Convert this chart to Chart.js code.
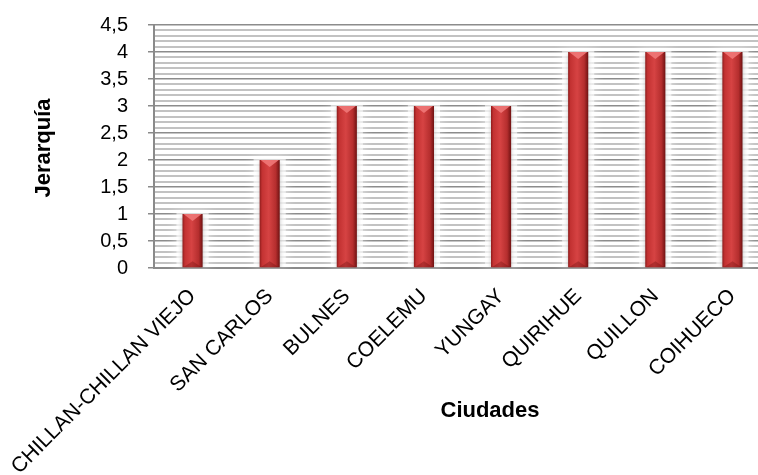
<!DOCTYPE html>
<html>
<head>
<meta charset="utf-8">
<script src="https://cdn.jsdelivr.net/npm/chart.js@4/dist/chart.umd.min.js"></script>
<style>
  html, body { margin: 0; padding: 0; background: #fff; overflow: hidden; }
  #wrap { width: 775px; height: 475px; }
</style>
</head>
<body>
<div id="wrap"><canvas id="grafico" width="775" height="475"></canvas></div>
<script>
// Datos del gráfico
const ciudades = ['CHILLAN-CHILLAN VIEJO', 'SAN CARLOS', 'BULNES', 'COELEMU', 'YUNGAY', 'QUIRIHUE', 'QUILLON', 'COIHUECO'];
const jerarquia = [1, 2, 3, 3, 3, 4, 4, 4];
const ejeYMin = 0;
const ejeYMax = 4.5;
const pasoMayor = 0.5;
const pasoMenor = 0.1;

const fuente = '"Liberation Sans", Arial, sans-serif';

function esMayor(v) {
    const k = v / pasoMayor;
    return Math.abs(k - Math.round(k)) < 1e-6;
}

// Degradado horizontal tipo cilindro para cada barra
function colorBarra(ctx) {
    const chart = ctx.chart;
    const escala = chart.scales.x;
    if (!escala || ctx.dataIndex === undefined) return '#c83434';
    const cx = escala.getPixelForValue(ctx.dataIndex);
    const ancho = escala.width / ciudades.length * 0.9 * 0.29;
    if (!Number.isFinite(cx) || !Number.isFinite(ancho) || ancho <= 0) return '#c83434';
    const g = chart.ctx.createLinearGradient(cx - ancho / 2, 0, cx + ancho / 2, 0);
    g.addColorStop(0, '#8e1c1c');
    g.addColorStop(0.12, '#c33232');
    g.addColorStop(0.45, '#d64343');
    g.addColorStop(0.8, '#b52e2e');
    g.addColorStop(1, '#6f1212');
    return g;
}

// Halo blanco y bisel superior de las barras
const efectosBarras = {
    id: 'efectosBarras',
    beforeDatasetsDraw(chart) {
        const c = chart.ctx;
        const meta = chart.getDatasetMeta(0);
        // halo claro alrededor de cada barra
        c.save();
        c.fillStyle = 'rgba(255,255,255,0.55)';
        c.shadowColor = 'rgba(255,255,255,1)';
        c.shadowBlur = 10;
        meta.data.forEach(bar => {
            c.fillRect(bar.x - bar.width / 2 - 6, bar.y - 3, bar.width + 12, bar.base - bar.y + 2);
        });
        c.restore();
        c.save();
        c.shadowColor = 'rgba(80,80,80,0.35)';
        c.shadowBlur = 4;
        c.shadowOffsetY = 2;
    },
    afterDatasetsDraw(chart) {
        const c = chart.ctx;
        c.restore();
        const meta = chart.getDatasetMeta(0);
        c.save();
        meta.data.forEach(bar => {
            const w = bar.width;
            const x0 = bar.x - w / 2;
            const x1 = bar.x + w / 2;
            const y = bar.y;
            c.fillStyle = 'rgba(240,120,120,0.9)';
            c.beginPath();
            c.moveTo(x0 + 1, y);
            c.lineTo(x1 - 1, y);
            c.lineTo(bar.x, y + 7);
            c.closePath();
            c.fill();
            c.fillStyle = 'rgba(110,15,15,0.35)';
            c.beginPath();
            c.moveTo(x0 + 1, bar.base);
            c.lineTo(x1 - 1, bar.base);
            c.lineTo(bar.x, bar.base - 6);
            c.closePath();
            c.fill();
        });
        c.restore();
    }
};

// Títulos de ejes
const titulosEjes = {
    id: 'titulosEjes',
    afterDraw(chart) {
        const c = chart.ctx;
        c.save();
        c.fillStyle = '#000';
        c.font = 'bold 22px ' + fuente;
        c.textAlign = 'center';
        c.textBaseline = 'middle';
        c.fillText('Ciudades', 490, 411);
        c.translate(44, 148);
        c.rotate(-Math.PI / 2);
        c.fillText('Jerarquía', 0, 0);
        c.restore();
    }
};

new Chart(document.getElementById('grafico'), {
    type: 'bar',
    data: {
        labels: ciudades,
        datasets: [{
            label: 'Jerarquía',
            data: jerarquia,
            backgroundColor: colorBarra,
            borderWidth: 0,
            barPercentage: 0.9,
            categoryPercentage: 0.29
        }]
    },
    options: {
        responsive: false,
        animation: false,
        layout: { padding: { top: 25, right: 4, left: 0, bottom: 0 } },
        plugins: {
            legend: { display: false },
            tooltip: { enabled: false }
        },
        scales: {
            x: {
                grid: { display: false },
                border: { display: true, color: '#8a8a8a', width: 2 },
                ticks: {
                    color: '#000',
                    font: { family: fuente, size: 21 },
                    minRotation: 45,
                    maxRotation: 45,
                    autoSkip: false,
                    padding: 8
                },
                afterFit(scale) {
                    scale.height = 207;
                    scale.paddingLeft = 0;
                    scale.paddingRight = 0;
                }
            },
            y: {
                min: ejeYMin,
                max: ejeYMax,
                border: { display: true, color: '#8a8a8a', width: 2 },
                grid: {
                    color: ctx => esMayor(ctx.tick.value) ? '#8c8c8c' : '#c2c2c2',
                    lineWidth: ctx => esMayor(ctx.tick.value) ? 1.5 : 2,
                    tickColor: ctx => esMayor(ctx.tick.value) ? '#8a8a8a' : 'rgba(0,0,0,0)',
                    tickLength: 6
                },
                ticks: {
                    stepSize: pasoMenor,
                    autoSkip: false,
                    color: '#000',
                    font: { family: fuente, size: 20 },
                    padding: 20,
                    callback: v => esMayor(v) ? String(Math.round(v * 10) / 10).replace('.', ',') : ''
                },
                afterFit(scale) {
                    scale.width = 154;
                    scale.paddingTop = 0;
                    scale.paddingBottom = 0;
                }
            }
        }
    },
    plugins: [efectosBarras, titulosEjes]
});
</script>
</body>
</html>
